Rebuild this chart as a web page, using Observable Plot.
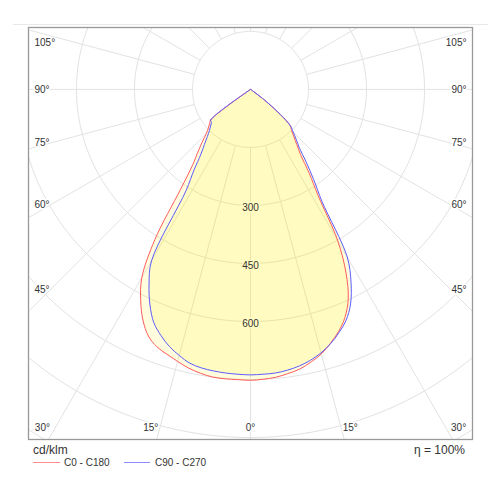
<!DOCTYPE html>
<html><head><meta charset="utf-8">
<script src="https://cdn.jsdelivr.net/npm/d3@7"></script>
<script src="https://cdn.jsdelivr.net/npm/@observablehq/plot@0.6"></script>
<style>
body{margin:0;background:#fff;font-family:"Liberation Sans",Arial,sans-serif;color:#333;}
#wrap{position:relative;width:500px;height:500px;overflow:hidden;}
#topline{position:absolute;left:13px;top:24px;width:475px;height:0;border-top:1px solid #e8e8e8;}
#chart{position:absolute;left:0;top:0;}
.t{position:absolute;white-space:nowrap;}
.sw{position:absolute;height:0;}
</style></head>
<body><div id="wrap"><div id="topline"></div><div id="chart"></div></div>
<script>
// ---- data (cd/klm) ----
const gamma = [0,2.5,5,7.5,10,12.5,15,17.5,20,22.5,25,27.5,30,32.5,35,37.5,40,42.5,45,47.5,50,52.5,55,57.5,90,180];
const c0   = [752,750,747,741,734,722,708,688,666,638,598,535,450,325,265,213,186,166,150,140,100,50,10,3,0,0];
const c180 = [752,751,751,750,745,738,728,718,708,690,658,615,562,460,315,245,212,185,162,148,138,130,0,0,0,0];
const c90  = [738,737,736,732,726,717,705,689,669,646,612,563,500,345,285,236,196,175,156,141,100,50,10,3,0,0];
const c270 = [738,737,736,734,731,725,712,697,677,653,615,568,512,310,255,210,185,165,150,140,132,130,0,0,0,0];
const seriesNames = ["C0 - C180", "C90 - C270"];
const seriesColors = ["#ff5c5c", "#5c5cff"];
const rings = [150,300,450,600,750,900,1050];
const ringLabels = [300,450,600];
const spokeAngles = [0,15,30,45,60,75,90,105,120,135,150,165,180,195,210,225,240,255,270,285,300,315,330,345];
const sideLabels = [45,60,75,90,105];
const bottomLabels = [-30,-15,0,15,30];
const unitLabel = "cd/klm";
const effLabel = "η = 100%";

// ---- geometry ----
const W = 500, H = 442, mL = 28, mR = 28, mT = 27, mB = 3;
const xDom = [-574, 574], yDom = [-905, 160];
const k = (W - mL - mR) / (xDom[1] - xDom[0]); // px per cd
const rad = d => d * Math.PI / 180;

function polygon(left, right, name) {
  const pts = [];
  const push = (v, g, side) => {
    const p = {x: side * v * Math.sin(rad(g)), y: -v * Math.cos(rad(g)), s: name};
    const q = pts[pts.length - 1];
    if (!q || Math.hypot(q.x - p.x, q.y - p.y) > 1e-6) pts.push(p);
  };
  for (let i = gamma.length - 1; i >= 0; i--) push(left[i], gamma[i], -1);
  for (let i = 1; i < gamma.length; i++) push(right[i], gamma[i], 1);
  return pts;
}
const polyA = polygon(c180, c0, seriesNames[0]);
const polyB = polygon(c270, c90, seriesNames[1]);

const ringPts = rings.flatMap(r => d3.range(0, 361, 2).map(a => ({r, x: r * Math.sin(rad(a)), y: -r * Math.cos(rad(a))})));
const spokes = spokeAngles.map(a => ({
  x1: rings[0] * Math.sin(rad(a)), y1: -rings[0] * Math.cos(rad(a)),
  x2: 1400 * Math.sin(rad(a)), y2: -1400 * Math.cos(rad(a))
}));

const xEdge = xDom[1] - 6 / k;
const xLab = 200 / k;
const yMax = yDom[1] - 15 / k;
const sideY = a => a === 90 ? 0 : Math.min(-xLab / Math.tan(rad(a)), yMax);
const leftLabs = sideLabels.map(a => ({x: -xEdge, y: sideY(a), t: a + "°"}));
const rightLabs = sideLabels.map(a => ({x: xEdge, y: sideY(a), t: a + "°"}));
const yBottom = yDom[0] + 12 / k;
const bottomLabs = bottomLabels.map(a => ({x: -yDom[0] * Math.tan(rad(a)) + Math.sign(a) * 6 / k, y: yBottom, t: Math.abs(a) + "°"}));
const ringLabs = ringLabels.map(r => ({x: 0, y: -r - 5, t: String(r)}));

const fillCol = "#fff000", fillOp = 0.13, haloCol = "#fffbc1";
const crv = "catmull-rom-closed";

const chart = Plot.plot({
  width: W, height: H, marginLeft: mL, marginRight: mR, marginTop: mT, marginBottom: mB,
  x: {domain: xDom, axis: null},
  y: {domain: yDom, axis: null},
  style: {fontFamily: '"Liberation Sans", Arial, sans-serif', fontSize: "10px", color: "#333", background: "transparent"},
  marks: [
    Plot.line(ringPts, {x: "x", y: "y", z: "r", stroke: "#e2e2e2", strokeWidth: 1, clip: true}),
    Plot.link(spokes, {x1: "x1", y1: "y1", x2: "x2", y2: "y2", stroke: "#e2e2e2", strokeWidth: 1, clip: true}),
    Plot.line(polyA, {x: "x", y: "y", fill: fillCol, fillOpacity: fillOp, stroke: "none", curve: crv}),
    Plot.line(polyB, {x: "x", y: "y", fill: fillCol, fillOpacity: fillOp, stroke: "none", curve: crv}),
    Plot.line(polyA, {x: "x", y: "y", stroke: seriesColors[0], strokeWidth: 1, curve: crv}),
    Plot.line(polyB, {x: "x", y: "y", stroke: seriesColors[1], strokeWidth: 1, curve: crv}),
    Plot.text(ringLabs, {x: "x", y: "y", text: "t", fill: "#333", stroke: haloCol, strokeWidth: 3, fontSize: 10}),
    Plot.text(leftLabs, {x: "x", y: "y", text: "t", textAnchor: "start", fill: "#333", stroke: "white", strokeWidth: 3, fontSize: 10}),
    Plot.text(rightLabs, {x: "x", y: "y", text: "t", textAnchor: "end", fill: "#333", stroke: "white", strokeWidth: 3, fontSize: 10}),
    Plot.text(bottomLabs, {x: "x", y: "y", text: "t", fill: "#333", stroke: "white", strokeWidth: 3, fontSize: 10}),
    Plot.frame({stroke: "#999", strokeWidth: 1.3})
  ]
});
document.getElementById("chart").appendChild(chart);

// ---- legend / captions below the SVG ----
const wrap = document.getElementById("wrap");
function addText(txt, css) { const s = document.createElement("span"); s.className = "t"; s.textContent = txt; Object.assign(s.style, css); wrap.appendChild(s); }
addText(unitLabel, {left: "33px", top: "442px", fontSize: "12px", lineHeight: "16px"});
addText(effLabel, {right: "35px", top: "442px", fontSize: "12px", lineHeight: "16px"});
const legendX = [[33, 27, 64], [124, 26, 155]];
seriesNames.forEach((n, i) => {
  const sw = document.createElement("div"); sw.className = "sw";
  Object.assign(sw.style, {left: legendX[i][0] + "px", top: "462px", width: legendX[i][1] + "px", borderTop: "1px solid " + seriesColors[i], opacity: 0.7});
  wrap.appendChild(sw);
  addText(n, {left: legendX[i][2] + "px", top: "456px", fontSize: "10px", lineHeight: "14px"});
});
</script>
</body></html>
